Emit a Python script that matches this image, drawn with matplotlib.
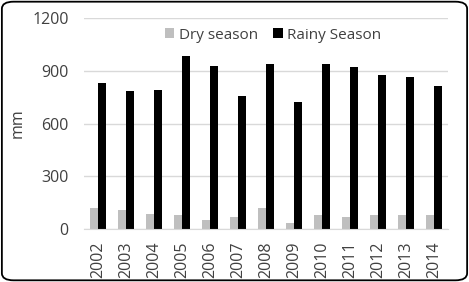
import matplotlib
matplotlib.use("Agg")
import matplotlib.pyplot as plt
import numpy as np
from matplotlib.patches import FancyBboxPatch

years = ["2002", "2003", "2004", "2005", "2006", "2007", "2008",
         "2009", "2010", "2011", "2012", "2013", "2014"]
dry = [122, 107, 88, 77, 54, 71, 117, 35, 82, 67, 82, 82, 77]
rainy = [828, 785, 791, 985, 929, 756, 938, 720, 937, 923, 875, 866, 814]

plt.rcParams['font.family'] = ['Open Sans', 'DejaVu Sans']

fig = plt.figure(figsize=(4.69, 2.82), dpi=100)
ax = fig.add_axes([84 / 469, 1 - 229 / 282, (448 - 84) / 469, (229 - 18) / 282])

x = np.arange(len(years))
w = 0.29
ax.bar(x - w / 2, dry, w, color="#bfbfbf", label="Dry season")
ax.bar(x + w / 2, rainy, w, color="#000000", label="Rainy Season")

ax.set_xlim(-0.5, len(years) - 0.5)
ax.set_ylim(0, 1200)
ax.set_yticks([0, 300, 600, 900, 1200])
ax.set_xticks(x)
ax.set_xticklabels(years, rotation=90)
ax.tick_params(axis="both", length=0, labelsize=11.5, colors="#404040")
ax.tick_params(axis="y", pad=11)
ax.tick_params(axis="x", pad=9)
ax.grid(axis="y", color="#d9d9d9", linewidth=1)
ax.set_axisbelow(True)
for s in ["top", "right", "left"]:
    ax.spines[s].set_visible(False)
ax.spines["bottom"].set_color("#d9d9d9")
ax.set_ylabel("mm", fontsize=11.5, color="#404040", labelpad=5)

ax.legend(loc="upper center", bbox_to_anchor=(0.52, 1.02), ncol=2, frameon=False,
          fontsize=11, handlelength=0.6, handleheight=0.6, handletextpad=0.3,
          columnspacing=1.0, labelcolor="#404040")

border = FancyBboxPatch((0.004, 0.006), 0.992, 0.988, transform=fig.transFigure,
                        boxstyle="round,pad=0,rounding_size=0.025",
                        facecolor="none", edgecolor="black", linewidth=1.3)
fig.patches.append(border)

fig.savefig("out.png", dpi=100)
